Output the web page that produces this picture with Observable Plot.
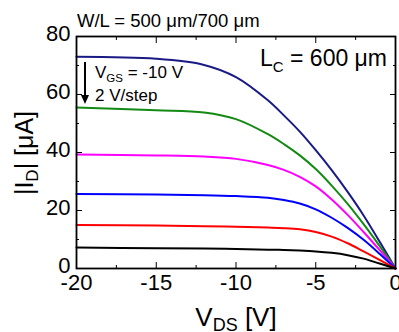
<!DOCTYPE html>
<html><head><meta charset="utf-8">
<script src="https://cdn.jsdelivr.net/npm/d3@7"></script>
<script src="https://cdn.jsdelivr.net/npm/@observablehq/plot@0.6"></script>
<style>body{margin:0;background:#fff}#chart{width:399px;height:332px}</style>
</head><body><div id="chart"></div>
<script>
// V_DS sample points (V)
const vds = [-20, -15, -12, -10, -8, -7, -6, -5, -4, -3, -2, -1, 0];
// series: V_GS from -10 V in 2 V steps
const series = ["-10 V", "-8 V", "-6 V", "-4 V", "-2 V", "0 V"];
const colors = ["#1a1a85", "#138a13", "#ff00ff", "#0000ff", "#ff0000", "#000000"];
// |I_D| (uA)
const id_m10 = [73.0, 72.3, 70.2, 66.0, 58.0, 52.8, 47.2, 40.8, 33.9, 26.4, 18.3, 9.3, 0];
const id_m8  = [55.5, 54.6, 53.8, 51.5, 46.3, 42.9, 39.0, 34.3, 28.6, 22.3, 15.3, 7.8, 0];
const id_m6  = [39.3, 39.0, 38.6, 37.8, 35.7, 34.0, 31.6, 28.3, 23.8, 18.5, 12.6, 6.4, 0];
const id_m4  = [25.7, 25.5, 25.3, 25.0, 24.4, 23.6, 22.4, 20.4, 17.5, 14.0, 9.9, 5.1, 0];
const id_m2  = [15.0, 14.8, 14.6, 14.4, 14.1, 13.9, 13.5, 12.6, 11.0, 8.7, 5.9, 3.0, 0];
const id_0   = [7.2, 7.0, 6.9, 6.7, 6.5, 6.4, 6.2, 5.9, 5.4, 4.6, 3.4, 1.7, 0];
const allSeries = [id_m10, id_m8, id_m6, id_m4, id_m2, id_0];

const xMajor = [-20, -15, -10, -5, 0];
const xMinor = [-17.5, -12.5, -7.5, -2.5];
const yMajor = [0, 20, 40, 60, 80];
const yMinor = [10, 30, 50, 70];

const rows = allSeries.flatMap((arr, k) => arr.map((v, j) => ({v: vds[j], i: v, s: series[k]})));

const FONT = "Liberation Sans, Arial, Helvetica, sans-serif";
const blank = () => "";

const plot = Plot.plot({
  width: 399, height: 332,
  marginLeft: 76, marginRight: 4, marginTop: 36, marginBottom: 64,
  style: {fontFamily: FONT, background: "white", color: "black"},
  x: {domain: [-20, 0]},
  y: {domain: [0, 80]},
  color: {domain: series, range: colors},
  marks: [
    Plot.line(rows, {x: "v", y: "i", z: "s", stroke: "s", strokeWidth: 2, curve: "catmull-rom"}),
    Plot.axisX(xMajor, {anchor: "bottom", tickSize: -6, tickFormat: blank, label: null}),
    Plot.axisX(xMinor, {anchor: "bottom", tickSize: -3, tickFormat: blank, label: null}),
    Plot.axisX(xMajor, {anchor: "top", tickSize: -6, tickFormat: blank, label: null}),
    Plot.axisX(xMinor, {anchor: "top", tickSize: -3, tickFormat: blank, label: null}),
    Plot.axisY(yMajor, {anchor: "left", tickSize: -6, tickFormat: blank, label: null}),
    Plot.axisY(yMinor, {anchor: "left", tickSize: -3, tickFormat: blank, label: null}),
    Plot.axisY(yMajor, {anchor: "right", tickSize: -6, tickFormat: blank, label: null}),
    Plot.axisY(yMinor, {anchor: "right", tickSize: -3, tickFormat: blank, label: null}),
    Plot.axisX(xMajor, {anchor: "bottom", tickSize: 0, tickPadding: 6, fontSize: 22, tickFormat: d => String(d), label: null}),
    Plot.axisY(yMajor, {anchor: "left", tickSize: 0, tickPadding: 6, fontSize: 22, tickFormat: d => String(d), label: null, dy: -3}),
    Plot.frame({stroke: "black", strokeWidth: 1.8})
  ]
});

document.getElementById("chart").appendChild(plot);

// Annotations
const svg = d3.select(plot);
const g = svg.append("g").attr("font-family", FONT).attr("fill", "black").attr("text-anchor", "start");

g.append("text").attr("x", 77).attr("y", 27).attr("font-size", 18.5).text("W/L = 500 μm/700 μm");

const lc = g.append("text").attr("x", 260).attr("y", 66).attr("font-size", 23);
lc.append("tspan").text("L");
lc.append("tspan").attr("font-size", 15).attr("dy", 6).text("C");
lc.append("tspan").attr("dy", -6).text(" = 600 μm");

const vg = g.append("text").attr("x", 95).attr("y", 78).attr("font-size", 17);
vg.append("tspan").text("V");
vg.append("tspan").attr("font-size", 11.5).attr("dy", 4).text("GS");
vg.append("tspan").attr("dy", -4).text(" = -10 V");
g.append("text").attr("x", 95).attr("y", 101).attr("font-size", 17).text("2 V/step");

// arrow
g.append("line").attr("x1", 85).attr("x2", 85).attr("y1", 62).attr("y2", 96).attr("stroke", "black").attr("stroke-width", 2);
g.append("path").attr("d", "M81,95 L89,95 L85,104 Z").attr("fill", "black");

// axis titles
const xl = g.append("text").attr("x", 236).attr("y", 326).attr("font-size", 26).attr("text-anchor", "middle");
xl.append("tspan").text("V");
xl.append("tspan").attr("font-size", 18).attr("dy", 5).text("DS");
xl.append("tspan").attr("dy", -5).text(" [V]");

const yl = g.append("text").attr("transform", "translate(33,153) rotate(-90)").attr("font-size", 25).attr("text-anchor", "middle");
yl.append("tspan").text("|I");
yl.append("tspan").attr("font-size", 17).attr("dy", 5).text("D");
yl.append("tspan").attr("dy", -5).text("| [μA]");
</script>
</body></html>
